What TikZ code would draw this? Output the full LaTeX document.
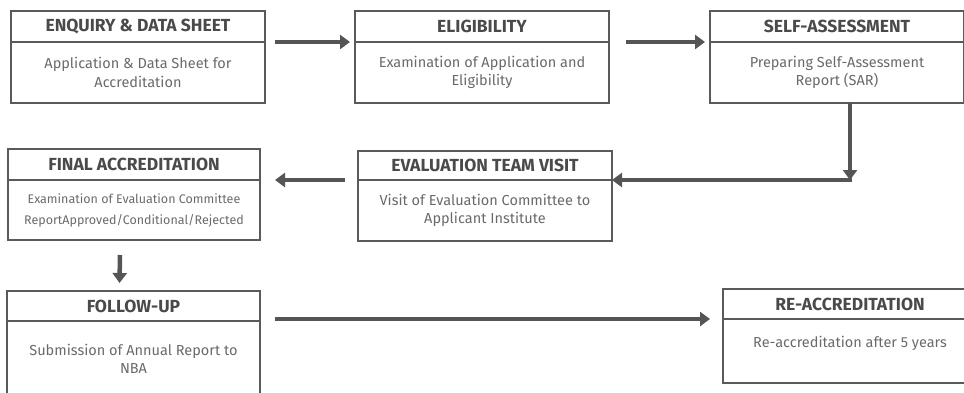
\documentclass[tikz,border=0pt]{standalone}
\usepackage{fontspec}
\setmainfont{Fira Sans}
\usepackage{xcolor}
\usepackage{tikz}
\usetikzlibrary{positioning,arrows.meta}

\definecolor{boxline}{HTML}{5A5A5A}
\definecolor{headtext}{HTML}{4A4A4A}
\definecolor{bodytext}{HTML}{6A6A6A}
\definecolor{arrowgray}{HTML}{555555}

\begin{document}
\begin{tikzpicture}[x=1pt, y=1pt, auto]
		% Define styles with simple colors
		\tikzstyle{header} = [rectangle, anchor=north west, minimum width=254pt, minimum height=31pt, inner sep=0pt, outer sep=0pt, text centered, draw=boxline, line width=1.3pt, text=headtext, font=\fontsize{17.5}{19}\selectfont\bfseries]
		\tikzstyle{detail} = [rectangle, minimum width=254pt, minimum height=61pt, inner sep=0pt, outer sep=0pt, align=center, draw=boxline, line width=1.3pt, text=bodytext, font=\fontsize{14.5}{18.5}\selectfont]
		\tikzstyle{arrow} = [line width=4.5pt, -{Triangle[length=10pt, width=14pt]}, draw=arrowgray]

		\useasboundingbox (0,0) rectangle (964,-392);

		% Nodes
		\node[header] (enqh) at (11,-11) {ENQUIRY \& DATA SHEET};
		\node[detail, below=0pt of enqh] (enqb) {Application \& Data Sheet for\\Accreditation};
		\node[header] (eligh) at (355,-11) {ELIGIBILITY};
		\node[detail, below=0pt of eligh] (eligb) {Examination of Application and\\Eligibility};
		\node[header] (selfh) at (710,-11) {SELF-ASSESSMENT};
		\node[detail, below=0pt of selfh] (selfb) {Preparing Self-Assessment\\Report (SAR)};

		\node[header, minimum width=252pt] (finalh) at (8,-149) {FINAL ACCREDITATION};
		\node[detail, minimum width=252pt, minimum height=60pt, font=\fontsize{12.5}{21}\selectfont, below=0pt of finalh] (finalb) {Examination of Evaluation Committee\\ReportApproved/Conditional/Rejected};
		\node[header, minimum height=29pt] (evalh) at (358,-151) {EVALUATION TEAM VISIT};
		\node[detail, below=0pt of evalh] (evalb) {Visit of Evaluation Committee to\\Applicant Institute};

		\node[header, minimum width=253pt, minimum height=30pt] (followh) at (7,-291) {FOLLOW-UP};
		\node[detail, minimum width=253pt, minimum height=76pt, below=0pt of followh] (followb) {Submission of Annual Report to\\NBA};
		\node[header, minimum height=30pt] (reh) at (723,-289) {RE-ACCREDITATION};
		\node[detail, minimum height=64pt, text depth=18pt, below=0pt of reh] (reb) {Re-accreditation after 5 years};

		% Arrows
		\draw[arrow] ([xshift=10pt]enqh.south east) -- ([xshift=-5pt]eligh.south west);
		\draw[arrow] ([xshift=17pt]eligh.south east) -- ([xshift=-5pt]selfh.south west);
		\coordinate (bend) at ([xshift=13pt]selfb.south |- evalh.south east);
		\draw[arrow] ([xshift=13pt]selfb.south) -- (bend);
		\draw[arrow] ([xshift=2.25pt]bend) -- (evalh.south east);
		\draw[arrow] ([xshift=-13pt]evalh.south west) -- ([xshift=15pt]finalh.south east);
		\draw[arrow] ([xshift=-14pt, yshift=-15pt]finalb.south) -- ([xshift=-14pt, yshift=8pt]followh.north);
		\draw[arrow] ([xshift=15pt, yshift=2pt]followh.south east) -- ([xshift=-13pt]reh.south west);
	\end{tikzpicture}
\end{document}
